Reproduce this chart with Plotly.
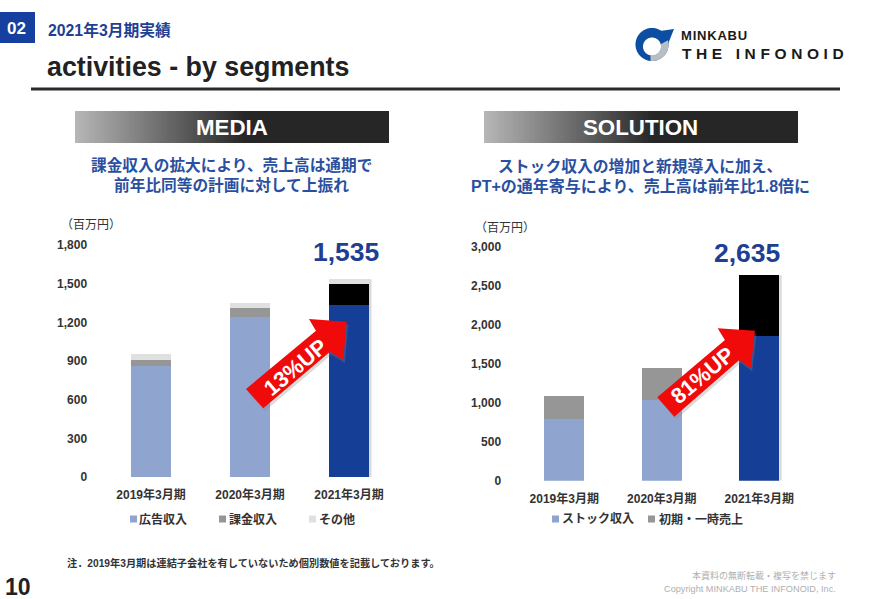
#!/usr/bin/env python3
# -*- coding: utf-8 -*-
import math
import plotly.graph_objects as go

W, H = 869, 599
FONT = "Liberation Sans, Noto Sans CJK JP, sans-serif"
BLUE_TXT = "#1F3F93"
BLUE_SUB = "#2B4F9F"
DARK = "#333333"

# data
years = ["2019年3月期", "2020年3月期", "2021年3月期"]
media_ad = [860, 1240, 1334]
media_billing = [47, 70, 163]
media_other = [45, 37, 38]
media_ticks = [0, 300, 600, 900, 1200, 1500, 1800]
solution_stock = [790, 1038, 1859]
solution_initial = [291, 411, 776]
solution_ticks = [0, 500, 1000, 1500, 2000, 2500, 3000]

LIGHT_BLUE, DEEP_BLUE = "#8FA5CF", "#153E96"
GRAY, BLACK, PALE = "#969696", "#000000", "#E0E0E0"


def X(px): return px / W
def Y(py): return 1 - py / H


fig = go.Figure()
shapes, notes = [], []


def text(x, y, s, size=12, color=DARK, bold=True, anchor="left", angle=0, font=FONT):
    label = "<b>%s</b>" % s if bold else s
    notes.append(dict(x=X(x), y=Y(y), xref="paper", yref="paper", text=label, showarrow=False,
                      xanchor=anchor, yanchor="middle", textangle=angle, borderpad=0, borderwidth=0,
                      font=dict(family=font, size=size, color=color)))


def rect(x0, y0, x1, y1, color, layer="above"):
    shapes.append(dict(type="rect", xref="paper", yref="paper", x0=X(x0), x1=X(x1), y0=Y(y0), y1=Y(y1),
                       fillcolor=color, line_width=0, layer=layer))


def poly(points, color, opacity=1.0):
    d = "M" + "L".join("%.5f,%.5f" % (X(a), Y(b)) for a, b in points) + "Z"
    shapes.append(dict(type="path", xref="paper", yref="paper", path=d, fillcolor=color,
                       line_width=0, opacity=opacity, layer="above"))


def header(x0, x1, label):
    # shapes have no gradient fill, so paint strips over each other from the left
    n = 60
    stop = x0 + (x1 - x0) * 0.55
    step = (stop - x0) / n
    for i in range(n):
        c = int(0xB6 + (0x26 - 0xB6) * i / (n - 1))
        rect(x0 + i * step, 111, x1, 143, "rgb(%d,%d,%d)" % (c, c, c))
    text((x0 + x1) / 2 - 0.5, 127.5, label, size=22.3, color="white", anchor="center")


def arrow(points, label, cx, cy):
    poly([(a + 1.5, b + 3) for a, b in points], "#888888", 0.3)
    poly(points, "#F10A0A")
    text(cx, cy, label, size=22, color="white", anchor="center", angle=-40)


def bar_shadow(xa, ya, total, half):
    shapes.append(dict(type="rect", xref=xa, yref=ya, x0=2 + half, x1=2 + half + 0.025, y0=0, y1=total,
                       fillcolor="#DADADA", line_width=0, layer="below"))


# MEDIA bars
fig.add_bar(x=years, y=media_ad, name="広告収入", marker_color=[LIGHT_BLUE, LIGHT_BLUE, DEEP_BLUE],
            xaxis="x", yaxis="y", width=0.405, marker_line_width=0)
fig.add_bar(x=years, y=media_billing, name="課金収入", marker_color=[GRAY, GRAY, BLACK],
            xaxis="x", yaxis="y", width=0.405, marker_line_width=0)
fig.add_bar(x=years, y=media_other, name="その他", marker_color=PALE,
            xaxis="x", yaxis="y", width=0.405, marker_line_width=0)

# SOLUTION bars
fig.add_bar(x=years, y=solution_stock, name="ストック収入", marker_color=[LIGHT_BLUE, LIGHT_BLUE, DEEP_BLUE],
            xaxis="x2", yaxis="y2", width=0.41, marker_line_width=0)
fig.add_bar(x=years, y=solution_initial, name="初期・一時売上", marker_color=[GRAY, GRAY, BLACK],
            xaxis="x2", yaxis="y2", width=0.41, marker_line_width=0)

bar_shadow("x", "y", media_ad[2] + media_billing[2] + media_other[2], 0.2025)
bar_shadow("x2", "y2", solution_stock[2] + solution_initial[2], 0.205)

# top of slide
rect(0, 12, 35, 43, "#1540A0")
text(16.5, 28, "02", size=17, color="white", anchor="center")
text(48, 29.5, "2021年3月期実績", size=15.8, color=BLUE_TXT)
text(47, 67, "activities - by segments", size=26.8, color="#222222")
rect(31, 87.5, 840, 90.5, "#2A2A2A")

# logo
cx, cy = 652, 44.5
ring = [(cx + 16.5 * math.cos(math.radians(a)), cy + 16.5 * math.sin(math.radians(a))) for a in range(0, 360, 6)]
poly(ring, "#0B4EA2")
poly([(660, 31), (674, 29), (668, 44)], "#0B4EA2")
wedge = [(cx + 16.5 * math.cos(math.radians(a)), cy + 16.5 * math.sin(math.radians(a))) for a in range(-15, 100, 5)]
wedge += [(cx + 9 * math.cos(math.radians(a)), cy + 2 + 9 * math.sin(math.radians(a))) for a in range(100, -16, -5)]
poly(wedge, "#B9BEC2")
hole = [(cx + 9 * math.cos(math.radians(a)), cy + 2 + 9 * math.sin(math.radians(a))) for a in range(0, 360, 6)]
poly(hole, "white")
text(681, 36, "<span style='letter-spacing:0.8px'>MINKABU</span>", size=13, color="#1A1A1A")
text(682, 53.5, "<span style='letter-spacing:4.6px'>THE INFONOID</span>", size=15.5, color="#1A1A1A")

header(75, 389, "MEDIA")
header(484, 798, "SOLUTION")

text(232, 165, "課金収入の拡大により、売上高は通期で", size=15.7, color=BLUE_SUB, anchor="center")
text(232, 185, "前年比同等の計画に対して上振れ", size=15.7, color=BLUE_SUB, anchor="center")
text(640, 166, "ストック収入の増加と新規導入に加え、", size=15.8, color=BLUE_SUB, anchor="center")
text(640, 186, "PT+の通年寄与により、売上高は前年比1.8倍に", size=16, color=BLUE_SUB, anchor="center")

text(61, 225, "（百万円）", size=12, bold=False)
text(475, 228, "（百万円）", size=12, bold=False)
text(346, 252, "1,535", size=26.5, color=BLUE_TXT, anchor="center")
text(747, 253, "2,635", size=26.5, color=BLUE_TXT, anchor="center")

arrow([(246, 389), (263.3, 408.3), (330, 351.7), (343.3, 360), (346.7, 321.7), (309, 319), (316, 330.7)],
      "13%UP", 295, 367)
arrow([(657.3, 397.3), (674.3, 416.7), (739.3, 360), (750.7, 368.3), (755, 330.7), (717.7, 328.3), (725, 340)],
      "81%UP", 702, 375)

# legends, placed by hand to sit tight against their labels
for sx, tx, col, name in [(130, 139, LIGHT_BLUE, "広告収入"), (219, 229, GRAY, "課金収入"), (309, 319, PALE, "その他"),
                          (552, 562, LIGHT_BLUE, "ストック収入"), (648, 659, GRAY, "初期・一時売上")]:
    rect(sx, 515.5, sx + 7, 522.5, col)
    text(tx, 519, name, size=12)

text(67, 563, "注．2019年3月期は連結子会社を有していないため個別数値を記載しております。", size=10.2)
text(5, 587, "10", size=23, color="#222222")
text(836, 575, "本資料の無断転載・複写を禁じます", size=9, color="#AFAFAF", bold=False, anchor="right")
text(836, 589, "Copyright MINKABU THE INFONOID, Inc.", size=9.2, color="#AFAFAF", bold=False, anchor="right")

tick_font = dict(family=FONT, size=12, color=DARK, weight="bold")
fig.update_layout(
    template="none",
    width=W, height=H, margin=dict(l=0, r=0, t=0, b=0, pad=0), autosize=False,
    barmode="stack", showlegend=False, plot_bgcolor="white", paper_bgcolor="white",
    xaxis=dict(domain=[X(101.5), X(398.5)], anchor="y", showgrid=False, showline=False, ticks="outside",
               ticklen=7, tickcolor="white", tickfont=tick_font),
    yaxis=dict(domain=[Y(477), Y(245)], range=[0, 1800], tickvals=media_ticks, showgrid=False, zeroline=False,
               showline=False, ticks="outside", ticklen=11, tickcolor="white", tickfont=tick_font, tickformat=","),
    xaxis2=dict(domain=[X(515.5), X(808)], anchor="y2", showgrid=False, showline=False, ticks="outside",
                ticklen=7, tickcolor="white", tickfont=tick_font),
    yaxis2=dict(domain=[Y(480.7), Y(246.7)], range=[0, 3000], tickvals=solution_ticks, anchor="x2", showgrid=False,
                zeroline=False, showline=False, ticks="outside", ticklen=11, tickcolor="white", tickfont=tick_font,
                tickformat=","),
    shapes=shapes, annotations=notes,
)

fig.write_html("out.html", config={"displayModeBar": False},
               post_script="document.body.style.margin='0';")
